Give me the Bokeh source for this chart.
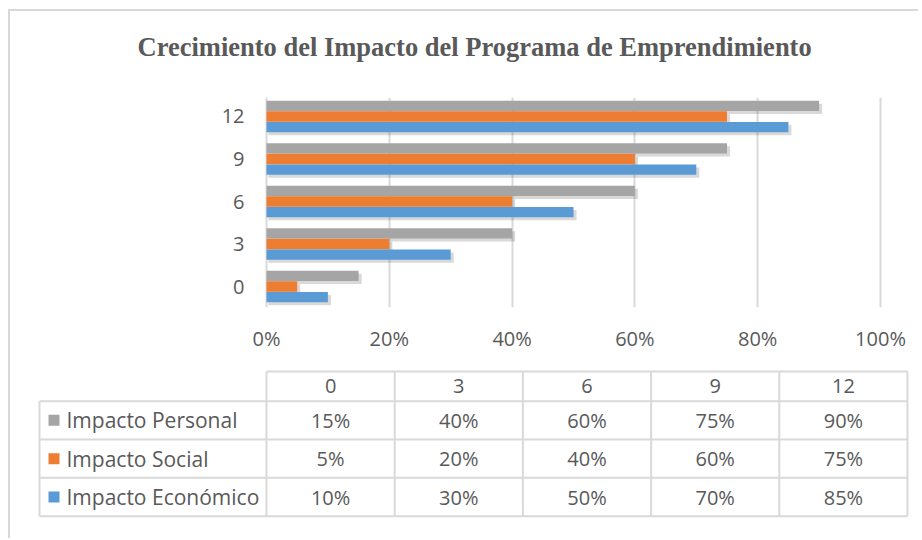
from bokeh.plotting import figure
from bokeh.models import (ColumnDataSource, Range1d, NumeralTickFormatter, FixedTicker)
from bokeh.layouts import column
from bokeh.core.properties import value
from bokeh.embed import file_html
from bokeh.resources import INLINE

# ---- data ----
months = ["0", "3", "6", "9", "12"]
series_names = ["Impacto Personal", "Impacto Social", "Impacto Económico"]
personal = [0.15, 0.40, 0.60, 0.75, 0.90]
social = [0.05, 0.20, 0.40, 0.60, 0.75]
economico = [0.10, 0.30, 0.50, 0.70, 0.85]
x_ticks = [0, 0.2, 0.4, 0.6, 0.8, 1.0]
title_text = "Crecimiento del Impacto del Programa de Emprendimiento"

colors = ["#A5A5A5", "#ED7D31", "#5B9BD5"]
series_values = [personal, social, economico]
offsets = [0.25, 0.0, -0.25]
TXT = "#595959"
GRID = "#D9D9D9"
FONT = "Open Sans"

# page offset of the content (inside the chart border)
OX, OY = 10, 11
RIGHT = 920
W = RIGHT - OX
HEAD_H = 60  # header band holding the title (page y 11..71)

# ---- title band ----
h = figure(width=W, height=HEAD_H, x_range=Range1d(OX, RIGHT), y_range=Range1d(OY + HEAD_H, OY),
           output_backend="svg", toolbar_location=None, min_border=0,
           x_axis_location=None, y_axis_location=None)
h.outline_line_color = None
h.grid.visible = False
h.text(x=[137], y=[46], text=[title_text], text_font=value("Liberation Serif"),
       text_font_style="bold", text_font_size="26.5px", text_color=TXT,
       text_align="left", text_baseline="middle")

# ---- chart ----
px_per_unit = 614.0
x_start = -(266 - OX) / px_per_unit
x_end = 1 + (W - (880 - OX)) / px_per_unit
top_y = OY + HEAD_H
p = figure(width=W, height=365 - top_y, x_range=Range1d(x_start, x_end),
           y_range=Range1d(-0.494, 4.447),
           output_backend="svg", toolbar_location=None, y_axis_location=None,
           min_border_left=0, min_border_right=0, min_border_top=97 - top_y, min_border_bottom=58)
p.outline_line_color = None

idx = list(range(len(months)))
src = ColumnDataSource(dict(idx=idx, personal=personal, social=social, economico=economico))
keys = ["personal", "social", "economico"]
for k, off in zip(keys, offsets):
    s = ColumnDataSource(dict(y=[i + off - 0.07 for i in idx],
                              r=[v + 0.005 for v in src.data[k]]))
    p.hbar(y="y", left=0.003, right="r", height=0.245, source=s,
           fill_color="#404040", fill_alpha=0.2, line_color=None)
for k, c, off in zip(keys, colors, offsets):
    s = ColumnDataSource(dict(y=[i + off for i in idx], r=src.data[k]))
    p.hbar(y="y", left=0, right="r", height=0.245, source=s, fill_color=c, line_color=None)

# category labels of the vertical axis
p.text(x=[-22 / px_per_unit] * len(months), y=idx, text=months, text_font=value(FONT),
       text_font_size="20px", text_color=TXT, text_align="right", text_baseline="middle")

p.xaxis.ticker = FixedTicker(ticks=x_ticks)
p.xaxis.formatter = NumeralTickFormatter(format="0%")
p.xaxis.axis_line_color = None
p.xaxis.major_tick_line_color = None
p.xaxis.minor_tick_line_color = None
p.xaxis.major_label_text_font = FONT
p.xaxis.major_label_text_font_size = "20px"
p.xaxis.major_label_text_color = TXT
p.xaxis.major_label_standoff = 11
p.ygrid.grid_line_color = None
p.xgrid.grid_line_color = GRID
p.xgrid.grid_line_width = 2

# ---- data table ----
t = figure(width=W, height=175, x_range=Range1d(OX, RIGHT), y_range=Range1d(175, 0),
           output_backend="svg", toolbar_location=None, min_border=0,
           x_axis_location=None, y_axis_location=None)
t.outline_line_color = None
t.grid.visible = False

tbl_left, tbl_data_left, tbl_right = 39, 266, 907
row_edges = [6, 35.7, 74, 112.3, 150.7]
col_w = (tbl_right - tbl_data_left) / len(months)
col_edges = [tbl_data_left + i * col_w for i in range(len(months) + 1)]
col_centers = [tbl_data_left + (i + 0.5) * col_w for i in range(len(months))]

x0s, y0s, x1s, y1s = [], [], [], []
x0s.append(tbl_data_left); x1s.append(tbl_right); y0s.append(row_edges[0]); y1s.append(row_edges[0])
for ry in row_edges[1:]:
    x0s.append(tbl_left); x1s.append(tbl_right); y0s.append(ry); y1s.append(ry)
x0s.append(tbl_left); x1s.append(tbl_left); y0s.append(row_edges[1]); y1s.append(row_edges[-1])
for cx in col_edges:
    x0s.append(cx); x1s.append(cx); y0s.append(row_edges[0]); y1s.append(row_edges[-1])
t.segment(x0=x0s, y0=y0s, x1=x1s, y1=y1s, line_color=GRID, line_width=2)

t.text(x=col_centers, y=[(row_edges[0] + row_edges[1]) / 2] * len(months), text=months,
       text_font=value(FONT), text_font_size="20px", text_color=TXT,
       text_align="center", text_baseline="middle")

for r, (name, vals, c) in enumerate(zip(series_names, series_values, colors)):
    cy = (row_edges[r + 1] + row_edges[r + 2]) / 2
    t.rect(x=[53.5], y=[cy], width=11, height=11, fill_color=c, line_color=None)
    t.text(x=[66], y=[cy], text=[name], text_font=value(FONT), text_font_size="21px",
           text_color=TXT, text_align="left", text_baseline="middle")
    t.text(x=col_centers, y=[cy] * len(vals), text=[f"{round(v * 100)}%" for v in vals],
           text_font=value(FONT), text_font_size="20px", text_color=TXT,
           text_align="center", text_baseline="middle")

layout = column(h, p, t, spacing=0,
                styles={"margin-left": f"{OX}px", "margin-top": f"{OY}px",
                        "box-shadow": "-2px -2px 0 0 #D9D9D9"})
open("out.html", "w").write(file_html(layout, INLINE))
